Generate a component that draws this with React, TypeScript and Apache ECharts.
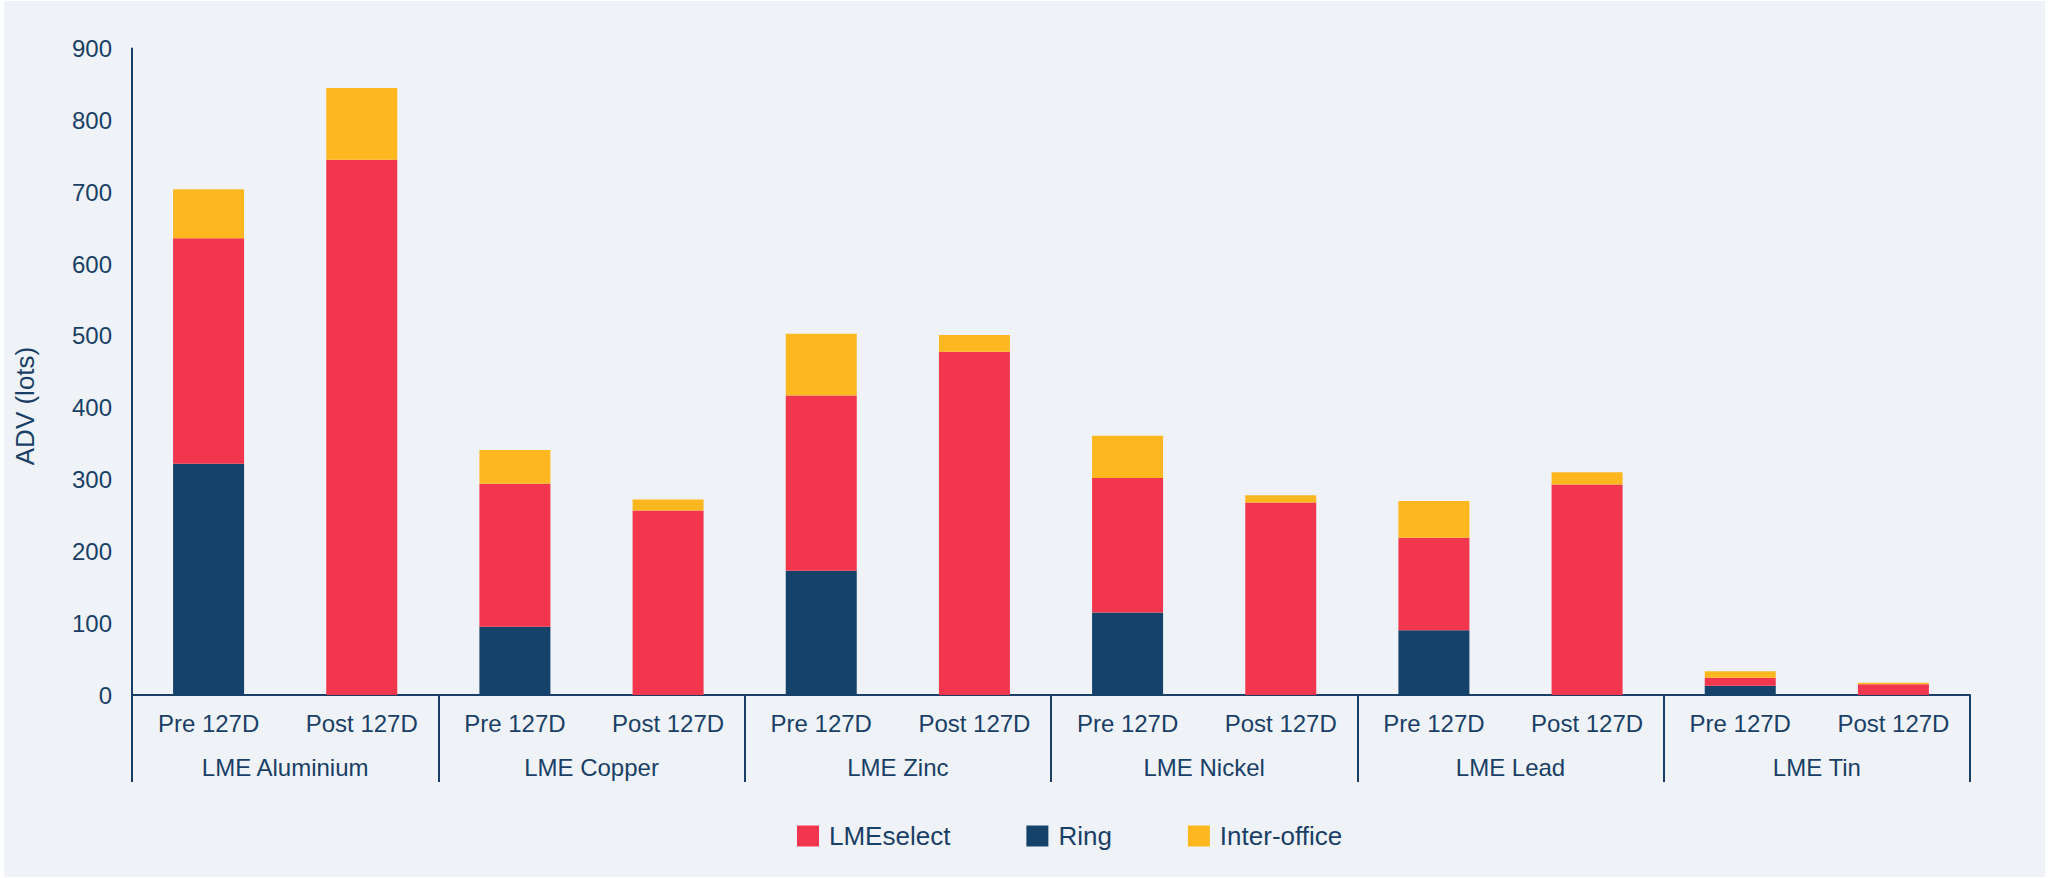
import React, { useEffect, useRef } from "react";
import * as echarts from "echarts";

const metals = ["LME Aluminium", "LME Copper", "LME Zinc", "LME Nickel", "LME Lead", "LME Tin"];
const periods = ["Pre 127D", "Post 127D"];
const ringValues = [322, 0, 95, 0, 173, 0, 115, 0, 90, 0, 13, 0];
const lmeselectValues = [314, 745, 199, 257, 244, 478, 187, 268, 129, 293, 11, 15];
const interOfficeValues = [68, 100, 47, 15, 86, 23, 59, 10, 51, 17, 9, 2];
const yTicks = { min: 0, max: 900, interval: 100 };
const yAxisTitle = "ADV (lots)";

const TEXT = "#1A3F66";
const FONT = "'Liberation Sans', Arial, Helvetica, sans-serif";

export default function App() {
  const ref = useRef<HTMLDivElement>(null);
  useEffect(() => {
    document.body.style.margin = "0";
    if (!ref.current) return;
    const chart = echarts.init(ref.current, undefined, { renderer: "svg" });
    const cats: string[] = [];
    metals.forEach(() => periods.forEach((p) => cats.push(p)));
    chart.setOption({
      animation: false,
      backgroundColor: "#EFF3F7",
      textStyle: { fontFamily: FONT, color: TEXT },
      grid: { left: 128, top: 47.5, right: 75, bottom: 182, containLabel: false },
      legend: {
        data: ["LMEselect", "Ring", "Inter-office"],
        left: 793,
        top: 822,
        padding: 0,
        itemWidth: 22,
        itemHeight: 21,
        itemGap: 76,
        icon: "rect",
        textStyle: { fontSize: 26, color: TEXT, fontFamily: FONT, padding: [0, 0, 0, 5] },
      },
      xAxis: [
        {
          type: "category",
          data: cats,
          position: "bottom",
          axisLine: { show: true, lineStyle: { color: TEXT, width: 2 } },
          axisTick: { show: false },
          axisLabel: { interval: 0, fontSize: 24, color: TEXT, margin: 16, fontFamily: FONT },
          splitLine: { show: false },
        },
        {
          type: "category",
          data: metals,
          position: "bottom",
          axisLine: { show: false },
          axisTick: { show: true, length: 87, lineStyle: { color: TEXT, width: 2 } },
          axisLabel: { interval: 0, fontSize: 24, color: TEXT, margin: 60, fontFamily: FONT },
          splitLine: { show: false },
        },
      ],
      yAxis: {
        type: "value",
        min: yTicks.min,
        max: yTicks.max,
        interval: yTicks.interval,
        axisLine: { show: true, lineStyle: { color: TEXT, width: 2 } },
        axisTick: { show: false },
        splitLine: { show: false },
        axisLabel: { fontSize: 24, color: TEXT, margin: 20, fontFamily: FONT },
      },
      graphic: [
        {
          type: "text",
          x: 21,
          y: 405,
          rotation: Math.PI / 2,
          style: {
            text: yAxisTitle,
            fontSize: 26,
            fontFamily: FONT,
            fill: TEXT,
            textAlign: "center",
            textVerticalAlign: "middle",
          },
        },
      ],
      series: [
        {
          name: "Ring",
          type: "bar",
          stack: "total",
          barWidth: 71,
          data: ringValues,
          itemStyle: { color: "#15426A" },
        },
        {
          name: "LMEselect",
          type: "bar",
          stack: "total",
          barWidth: 71,
          data: lmeselectValues,
          itemStyle: { color: "#F2364D" },
        },
        {
          name: "Inter-office",
          type: "bar",
          stack: "total",
          barWidth: 71,
          data: interOfficeValues,
          itemStyle: { color: "#FEB71F" },
        },
      ],
    });
    return () => chart.dispose();
  }, []);
  return (
    <div style={{ position: "relative", width: 2050, height: 878, background: "#fff" }}>
      <div ref={ref} style={{ position: "absolute", left: 4, top: 1, width: 2041, height: 876 }} />
    </div>
  );
}
